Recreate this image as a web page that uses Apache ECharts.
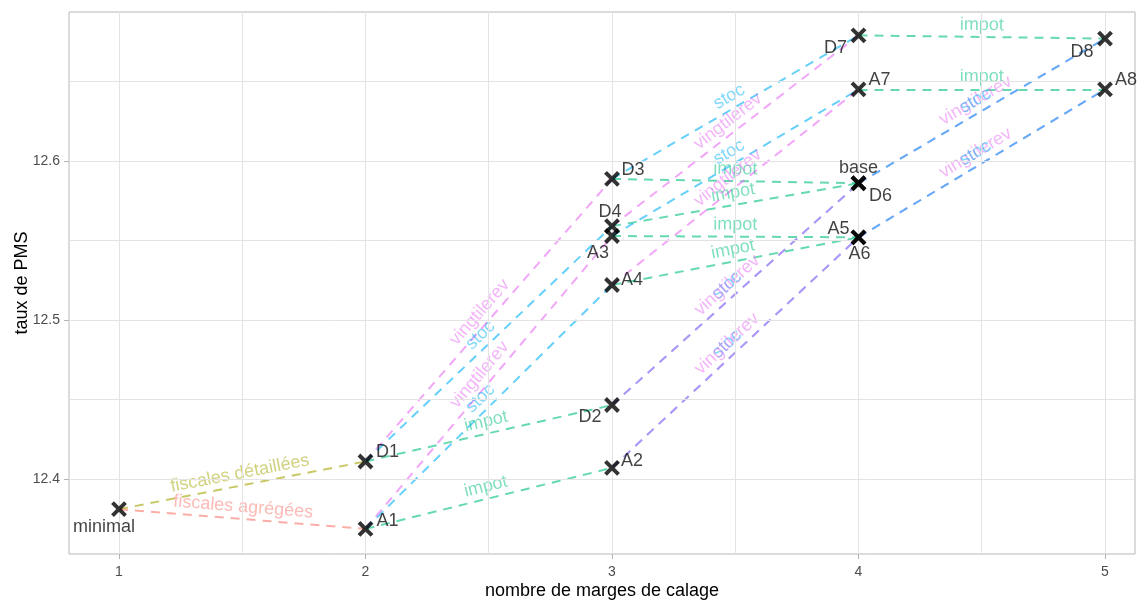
<!DOCTYPE html>
<html>
<head>
<meta charset="utf-8">
<script src="https://cdn.jsdelivr.net/npm/echarts@6/dist/echarts.min.js"></script>
<style>
html,body{margin:0;padding:0;background:#fff;}
#chart{width:1145px;height:600px;}
</style>
</head>
<body>
<div id="chart"></div>
<script>
// ---- data ----
const pointNames = ['minimal','D1','A1','D2','D3','D4','A2','A3','A4','base','D6','D7','A5','A6','A7','D8','A8'];
const pointX     = [1, 2, 2, 3, 3, 3, 3, 3, 3, 4, 4, 4, 4, 4, 4, 5, 5];
const pointY     = [12.381, 12.411, 12.3686, 12.4465, 12.5887, 12.559, 12.407, 12.5528, 12.522,
                    12.586, 12.586, 12.679, 12.552, 12.552, 12.645, 12.677, 12.645];

// segments: from point, to point, added margin
const segFrom   = ['minimal','minimal','D1','D1','D1','A1','A1','A1','D2','D2','D3','D3','D4','D4','A2','A2','A3','A3','A4','A4','base','D6','D7','A5','A6','A7'];
const segTo     = ['D1','A1','D2','D3','D4','A2','A3','A4','base','D6','D6','D7','base','D7','A5','A6','A6','A7','A5','A7','D8','D8','D8','A8','A8','A8'];
const segMargin = ['fiscales détaillées','fiscales agrégées','impot','vingtilerev','stoc','impot','vingtilerev','stoc','stoc','vingtilerev','impot','stoc','impot','vingtilerev','stoc','vingtilerev','impot','stoc','impot','vingtilerev','vingtilerev','stoc','impot','vingtilerev','stoc','impot'];

const xTicks = [1, 2, 3, 4, 5];
const yTicks = [12.4, 12.5, 12.6];
const xGrid = [1, 1.5, 2, 2.5, 3, 3.5, 4, 4.5, 5];
const yGrid = [12.4, 12.45, 12.5, 12.55, 12.6, 12.65];

// ---- styles ----
const marginColors = {
  'fiscales agrégées': '#F8766D',
  'fiscales détaillées': '#A3A500',
  'impot': '#00BF7D',
  'stoc': '#00B0F6',
  'vingtilerev': '#E76BF3'
};
// label offsets (px) relative to point centre
const labelOffsets = {
  'minimal': [-15, 18], 'D1': [22, -9], 'A1': [22, -8], 'D2': [-22, 12], 'A2': [20, -7],
  'D3': [21, -9], 'D4': [-2, -14], 'A3': [-14, 17], 'A4': [20, -5], 'base': [0, -15],
  'D6': [22, 13], 'A5': [-20, -8], 'A6': [1, 17], 'D7': [-23, 13], 'A7': [21, -9],
  'D8': [-23, 13], 'A8': [21, -9]
};

const FONT = '"Liberation Sans", Arial, sans-serif';

function coordOf(name) {
  const i = pointNames.indexOf(name);
  return [pointX[i], pointY[i]];
}

const lineData = segFrom.map((f, i) => {
  const m = segMargin[i];
  const c = marginColors[m];
  return {
    coords: [coordOf(f), coordOf(segTo[i])],
    name: m,
    lineStyle: { color: c, opacity: 0.6, width: 2, type: [9, 7] },
    label: { show: true, position: 'middle', formatter: m, color: c, opacity: 0.5,
             fontSize: 18, fontFamily: FONT, distance: 3 }
  };
});

const pointData = pointNames.map((n, i) => ({
  value: [pointX[i], pointY[i]],
  name: n,
  label: { show: true, position: 'inside', offset: labelOffsets[n], formatter: n,
           color: '#111', fontSize: 18, fontFamily: FONT }
}));

const gridLineStyle = { color: '#E3E3E3', width: 1, type: 'solid' };
const gridMarks = xGrid.map(v => ({ xAxis: v })).concat(yGrid.map(v => ({ yAxis: v })));

const chart = echarts.init(document.getElementById('chart'));
chart.setOption({
  animation: false,
  backgroundColor: '#fff',
  grid: { left: 69, right: 10, top: 12, bottom: 46, outerBoundsMode: 'none', containLabel: false,
          show: true, borderColor: '#B8B8B8', borderWidth: 1, backgroundColor: 'transparent' },
  xAxis: {
    type: 'value', min: 0.7972, max: 5.1217,
    name: 'nombre de marges de calage', nameLocation: 'middle', nameGap: 28, nameMoveOverlap: false,
    nameTextStyle: { color: '#000', fontSize: 18, fontFamily: FONT },
    axisLine: { show: false },
    splitLine: { show: false },
    axisTick: { show: true, customValues: xTicks, length: 5, lineStyle: { color: '#B3B3B3' } },
    axisLabel: { customValues: xTicks, color: '#4D4D4D', fontSize: 14, fontFamily: FONT, margin: 11,
                 formatter: v => String(v) }
  },
  yAxis: {
    type: 'value', min: 12.3528, max: 12.6937,
    name: 'taux de PMS', nameLocation: 'middle', nameGap: 38, nameRotate: 90, nameMoveOverlap: false,
    nameTextStyle: { color: '#000', fontSize: 18, fontFamily: FONT },
    axisLine: { show: false },
    splitLine: { show: false },
    axisTick: { show: true, customValues: yTicks, length: 5, lineStyle: { color: '#B3B3B3' } },
    axisLabel: { customValues: yTicks, color: '#4D4D4D', fontSize: 14, fontFamily: FONT, margin: 9,
                 formatter: v => v.toFixed(1) }
  },
  series: [
    {
      type: 'scatter', data: [], silent: true, z: 0,
      markLine: { silent: true, symbol: 'none', label: { show: false }, lineStyle: gridLineStyle,
                  animation: false, data: gridMarks }
    },
    {
      type: 'lines', coordinateSystem: 'cartesian2d', polyline: false, silent: true, z: 2,
      data: lineData
    },
    {
      type: 'scatter', z: 5, silent: true,
      symbol: 'path://M0,0L10,10M10,0L0,10', symbolSize: 13,
      itemStyle: { color: 'none', borderColor: '#000', borderWidth: 4 },
      data: pointData
    }
  ]
});
</script>
</body>
</html>
